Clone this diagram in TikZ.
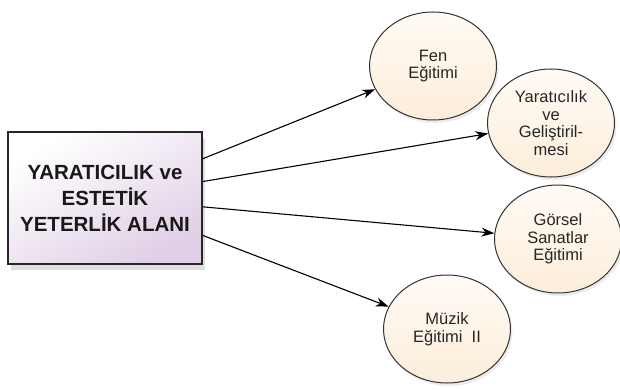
\documentclass[tikz,border=0pt]{standalone}
\usepackage{fontspec}
\setmainfont{Liberation Sans}
\usetikzlibrary{shapes,arrows.meta,shadows}

\definecolor{areabot}{HTML}{E0CFE6}
\definecolor{lessontop}{HTML}{FFFBF5}
\definecolor{lessonbot}{HTML}{FCEDDA}

\begin{document}
\begin{tikzpicture}[x=1pt, y=-1pt,
  area/.style={draw=black!85, line width=1.3pt, top color=white, bottom color=areabot, shading angle=30,
    drop shadow={opacity=0.25, shadow xshift=3pt, shadow yshift=-6pt},
    minimum width=194pt, minimum height=132pt, align=center,
    font=\fontsize{20.5}{26}\selectfont\bfseries, text=black!90},
  lesson/.style={ellipse, draw=black!80, line width=1pt, top color=lessontop, bottom color=lessonbot,
    drop shadow={opacity=0.15, shadow xshift=2pt, shadow yshift=-3pt},
    minimum width=127pt, minimum height=108pt, inner sep=0pt, align=center,
    font=\fontsize{16.5}{17.5}\selectfont, text=black!85},
  link/.style={-{Stealth[length=13pt,width=9pt]}, line width=1.1pt}]
  \useasboundingbox (0,0) rectangle (620,390);
  % main area
  \node[area] (alan) at (105,198) {YARATICILIK ve\\ESTETİK\\YETERLİK ALANI};
  % lessons
  \node[lesson] (fen) at (433,66) {Fen\\Eğitimi};
  \node[lesson] (yaratici) at (551,123) {Yaratıcılık\\ve\\Geliştiril-\\mesi};
  \node[lesson] (gorsel) at (558,239) {Görsel\\Sanatlar\\Eğitimi};
  \node[lesson] (muzik) at (447,329) {Müzik\\Eğitimi\ \ II};
  % links
  \draw[link] (alan) -- (fen);
  \draw[link] (alan) -- (yaratici);
  \draw[link] (alan) -- (gorsel);
  \draw[link] (alan) -- (muzik);
\end{tikzpicture}
\end{document}
